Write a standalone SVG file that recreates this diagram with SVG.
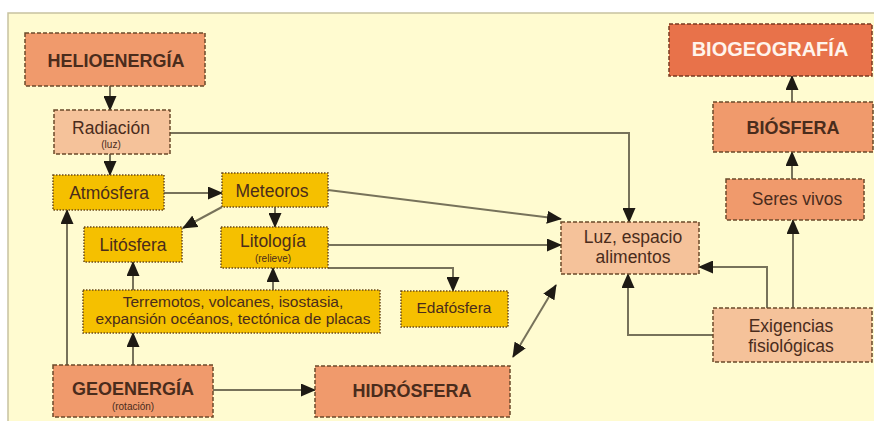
<svg xmlns="http://www.w3.org/2000/svg" width="874" height="421" viewBox="0 0 874 421">
<style>
.t{font-family:"Liberation Sans",Arial,sans-serif;fill:#4a2c1c;text-anchor:middle}
.b{font-weight:bold;font-size:18px}
.r{font-size:17.5px}
.s{font-size:10px}
.m{font-size:15.5px}
.sal{fill:#f09a6c;stroke:#6b4a2a;stroke-width:1.5;stroke-dasharray:4 2}
.pea{fill:#f5c29a;stroke:#6b4a2a;stroke-width:1.5;stroke-dasharray:4 2}
.gold{fill:#f5c000;stroke:#6b4a1a;stroke-width:1.5;stroke-dasharray:1.5 1.5}
.org{fill:#e8724a;stroke:#7a3a20;stroke-width:1.5;stroke-dasharray:4 2}
.c{fill:none;stroke:#77725a;stroke-width:2}
</style>
<defs>
<marker id="ah" markerUnits="userSpaceOnUse" markerWidth="15" markerHeight="13" refX="14" refY="6.5" orient="auto-start-reverse">
<path d="M0,0 L15,6.5 L0,13 z" fill="#1e1a14"/>
</marker>
</defs>
<rect x="0" y="0" width="874" height="421" fill="#ffffff"/>
<rect x="8" y="13" width="870" height="412" fill="#fffbd0" stroke="#c8c2a0" stroke-width="1.5"/>

<g id="connectors">
<path class="c" d="M110,86 V110" marker-end="url(#ah)"/>
<path class="c" d="M110,154 V175" marker-end="url(#ah)"/>
<path class="c" d="M170,133 H629 V222" marker-end="url(#ah)"/>
<path class="c" d="M164,193 H222" marker-end="url(#ah)"/>
<path class="c" d="M222,207 L183,228" marker-end="url(#ah)"/>
<path class="c" d="M275,207 V227" marker-end="url(#ah)"/>
<path class="c" d="M328,190 L561,219" marker-end="url(#ah)"/>
<path class="c" d="M328,245 H561" marker-end="url(#ah)"/>
<path class="c" d="M328,268 H453 V291" marker-end="url(#ah)"/>
<path class="c" d="M133,290 V262" marker-end="url(#ah)"/>
<path class="c" d="M273,290 V268" marker-end="url(#ah)"/>
<path class="c" d="M133,365 V333" marker-end="url(#ah)"/>
<path class="c" d="M67,365 V210" marker-end="url(#ah)"/>
<path class="c" d="M213,390 H315" marker-end="url(#ah)"/>
<path class="c" d="M513,357 L556,285" marker-start="url(#ah)" marker-end="url(#ah)"/>
<path class="c" d="M767,308 V267 H699" marker-end="url(#ah)"/>
<path class="c" d="M713,335 H628 V274" marker-end="url(#ah)"/>
<path class="c" d="M793,308 V220" marker-end="url(#ah)"/>
<path class="c" d="M792,179 V152" marker-end="url(#ah)"/>
<path class="c" d="M792,102 V76" marker-end="url(#ah)"/>
</g>

<g id="helioenergia">
<rect class="sal" x="25" y="33" width="180" height="53"/>
<text class="t b" x="116" y="67">HELIOENERGÍA</text>
</g>
<g id="radiacion">
<rect class="pea" x="54" y="110" width="116" height="44"/>
<text class="t r" x="111" y="134">Radiación</text>
<text class="t s" x="111" y="148">(luz)</text>
</g>
<g id="atmosfera">
<rect class="gold" x="53" y="175" width="111" height="35"/>
<text class="t r" x="109" y="199">Atmósfera</text>
</g>
<g id="meteoros">
<rect class="gold" x="222" y="173" width="106" height="34"/>
<text class="t r" x="272" y="197">Meteoros</text>
</g>
<g id="litosfera">
<rect class="gold" x="84" y="227" width="98" height="35"/>
<text class="t r" x="133" y="251">Litósfera</text>
</g>
<g id="litologia">
<rect class="gold" x="221" y="227" width="107" height="41"/>
<text class="t r" x="273" y="247">Litología</text>
<text class="t s" x="273" y="262">(relieve)</text>
</g>
<g id="terremotos">
<rect class="gold" x="83" y="290" width="297" height="43"/>
<text class="t m" x="233" y="307">Terremotos, volcanes, isostasia,</text>
<text class="t m" x="233" y="324">expansión océanos, tectónica de placas</text>
</g>
<g id="edafosfera">
<rect class="gold" x="401" y="291" width="107" height="36"/>
<text class="t m" x="454" y="313">Edafósfera</text>
</g>
<g id="geoenergia">
<rect class="sal" x="53" y="365" width="160" height="52"/>
<text class="t b" x="133" y="395">GEOENERGÍA</text>
<text class="t s" x="133" y="410">(rotación)</text>
</g>
<g id="hidrosfera">
<rect class="sal" x="315" y="366" width="195" height="51"/>
<text class="t b" x="412" y="397">HIDRÓSFERA</text>
</g>
<g id="luz">
<rect class="pea" x="561" y="222" width="138" height="52"/>
<text class="t r" x="633" y="243">Luz, espacio</text>
<text class="t r" x="633" y="263">alimentos</text>
</g>
<g id="exigencias">
<rect class="pea" x="713" y="308" width="159" height="54"/>
<text class="t r" x="791" y="332">Exigencias</text>
<text class="t r" x="791" y="352">fisiológicas</text>
</g>
<g id="seres">
<rect class="sal" x="726" y="179" width="138" height="41"/>
<text class="t r" x="797" y="205">Seres vivos</text>
</g>
<g id="biosfera">
<rect class="sal" x="713" y="102" width="160" height="50"/>
<text class="t b" x="793" y="134">BIÓSFERA</text>
</g>
<g id="biogeografia">
<rect class="org" x="669" y="24" width="203" height="52"/>
<text class="t b" x="770" y="56" style="fill:#fff4ec;font-size:20px">BIOGEOGRAFÍA</text>
</g>
</svg>
